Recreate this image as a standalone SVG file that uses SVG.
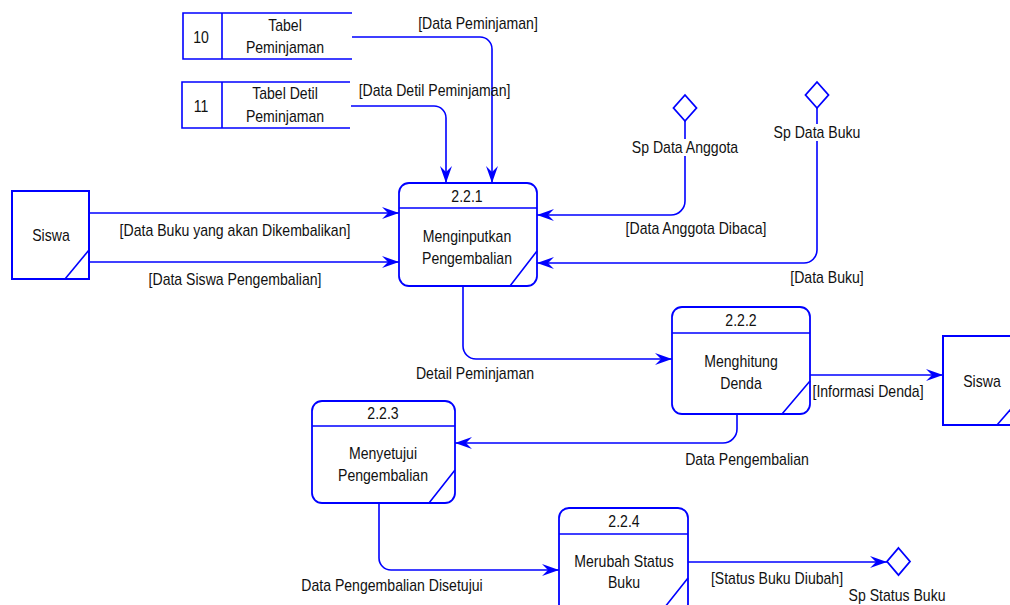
<svg xmlns="http://www.w3.org/2000/svg" width="1010" height="605" viewBox="0 0 1010 605">
  <style>
    .ln { fill: none; stroke: #0000ff; stroke-width: 1.6; }
    .bx { fill: #ffffff; stroke: #0000ff; stroke-width: 1.8; }
    .ent { fill: #ffffff; stroke: #0000ff; stroke-width: 2; }
    .flow { fill: none; stroke: #0000ff; stroke-width: 1.6; marker-end: url(#arr); }
    .t { font-family: "Liberation Sans", Arial, sans-serif; font-size: 16px; fill: #111111; text-anchor: middle; }
    .bg { fill: #ffffff; }
  </style>
  <defs>
    <marker id="arr" markerUnits="userSpaceOnUse" markerWidth="20" markerHeight="14" viewBox="-18 -7 20 14" refX="0" refY="0" orient="auto">
      <path d="M0,0 L-17,-6 L-11,0 L-17,6 Z" fill="#0000ff"/>
    </marker>
  </defs>
  <rect width="1010" height="605" fill="#ffffff"/>

  <!-- connectors -->
  <g id="connectors">
    <path class="flow" d="M352,37 H480 A12,12 0 0 1 492,49 V183"/>
    <path class="flow" d="M351,106 H434 A12,12 0 0 1 446,118 V183"/>
    <path class="flow" d="M89,213 H399"/>
    <path class="flow" d="M89,262 H399"/>
    <path class="flow" d="M685,121 V201 A14,14 0 0 1 671,215 H537"/>
    <path class="flow" d="M817,108 V250 A13,13 0 0 1 804,263 H537"/>
    <path class="flow" d="M463,286 V346 A13,13 0 0 0 476,359 H672"/>
    <path class="flow" d="M810,375 H943"/>
    <path class="flow" d="M737,414 V429 A14,14 0 0 1 723,443 H455"/>
    <path class="flow" d="M379,503 V558 A12,12 0 0 0 391,570 H559"/>
    <path class="flow" d="M688,562 H887"/>
  </g>

  <!-- connector labels -->
  <g id="flow-labels">
    <text class="t" transform="translate(478 29) scale(.88 1)">[Data Peminjaman]</text>
    <text class="t" transform="translate(434.5 96) scale(.88 1)">[Data Detil Peminjaman]</text>
    <text class="t" transform="translate(235 236) scale(.88 1)">[Data Buku yang akan Dikembalikan]</text>
    <text class="t" transform="translate(235 285) scale(.88 1)">[Data Siswa Pengembalian]</text>
    <text class="t" transform="translate(696 234) scale(.88 1)">[Data Anggota Dibaca]</text>
    <text class="t" transform="translate(827 283) scale(.88 1)">[Data Buku]</text>
    <text class="t" transform="translate(475 379) scale(.88 1)">Detail Peminjaman</text>
    <text class="t" transform="translate(868 397) scale(.88 1)">[Informasi Denda]</text>
    <text class="t" transform="translate(747 465) scale(.88 1)">Data Pengembalian</text>
    <text class="t" transform="translate(392 591) scale(.88 1)">Data Pengembalian Disetujui</text>
    <text class="t" transform="translate(777 584) scale(.88 1)">[Status Buku Diubah]</text>
  </g>

  <!-- data store 10 -->
  <g id="store-10">
    <path class="ln" stroke-width="2" d="M352,13 H183 V59 H352 M222,13 V59"/>
    <text class="t" transform="translate(201 43) scale(.88 1)">10</text>
    <text class="t" transform="translate(285 31) scale(.88 1)">Tabel</text>
    <text class="t" transform="translate(285 53) scale(.88 1)">Peminjaman</text>
  </g>

  <!-- data store 11 -->
  <g id="store-11">
    <path class="ln" stroke-width="2" d="M350,82 H182 V128 H350 M222,82 V128"/>
    <text class="t" transform="translate(201 112) scale(.88 1)">11</text>
    <text class="t" transform="translate(285 99) scale(.88 1)">Tabel Detil</text>
    <text class="t" transform="translate(285 122) scale(.88 1)">Peminjaman</text>
  </g>

  <!-- external entity: Siswa (source) -->
  <g id="siswa-in">
    <rect class="ent" x="12" y="191" width="77" height="88"/>
    <path class="ln" d="M65,279 L89,250"/>
    <text class="t" transform="translate(51 241) scale(.88 1)">Siswa</text>
  </g>

  <!-- external entity: Siswa (sink) -->
  <g id="siswa-out">
    <rect class="ent" x="943" y="336" width="80" height="89"/>
    <path class="ln" d="M997,425 L1022,396"/>
    <text class="t" transform="translate(982 387) scale(.88 1)">Siswa</text>
  </g>

  <!-- process 2.2.1 -->
  <g id="proc-221">
    <rect class="bx" x="399" y="183" width="138" height="103" rx="10"/>
    <path class="ln" d="M399,208 H537 M510,286 L537,251"/>
    <text class="t" transform="translate(467 202) scale(.88 1)">2.2.1</text>
    <text class="t" transform="translate(467 242) scale(.88 1)">Menginputkan</text>
    <text class="t" transform="translate(467 264) scale(.88 1)">Pengembalian</text>
  </g>

  <!-- process 2.2.2 -->
  <g id="proc-222">
    <rect class="bx" x="672" y="307" width="138" height="107" rx="10"/>
    <path class="ln" d="M672,333 H810 M782,414 L810,381"/>
    <text class="t" transform="translate(741 326) scale(.88 1)">2.2.2</text>
    <text class="t" transform="translate(741 367) scale(.88 1)">Menghitung</text>
    <text class="t" transform="translate(741 389) scale(.88 1)">Denda</text>
  </g>

  <!-- process 2.2.3 -->
  <g id="proc-223">
    <rect class="bx" x="312" y="401" width="143" height="102" rx="10"/>
    <path class="ln" d="M312,426 H455 M429,503 L455,470"/>
    <text class="t" transform="translate(383 419) scale(.88 1)">2.2.3</text>
    <text class="t" transform="translate(383 459) scale(.88 1)">Menyetujui</text>
    <text class="t" transform="translate(383 481) scale(.88 1)">Pengembalian</text>
  </g>

  <!-- process 2.2.4 -->
  <g id="proc-224">
    <rect class="bx" x="559" y="508" width="129" height="106" rx="10"/>
    <path class="ln" d="M559,534 H688 M661,612 L688,578"/>
    <text class="t" transform="translate(624 527) scale(.88 1)">2.2.4</text>
    <text class="t" transform="translate(624 567) scale(.88 1)">Merubah Status</text>
    <text class="t" transform="translate(624 588) scale(.88 1)">Buku</text>
  </g>

  <!-- stored procedure: Sp Data Anggota -->
  <g id="sp-data-anggota">
    <polygon class="bx" points="685,95 696.5,108 685,121 673.5,108"/>
    <rect class="bg" x="628" y="139" width="114" height="17"/>
    <text class="t" transform="translate(685 153) scale(.88 1)">Sp Data Anggota</text>
  </g>

  <!-- stored procedure: Sp Data Buku -->
  <g id="sp-data-buku">
    <polygon class="bx" points="817,82 828.5,95 817,108 805.5,95"/>
    <rect class="bg" x="771" y="124" width="92" height="17"/>
    <text class="t" transform="translate(817 138) scale(.88 1)">Sp Data Buku</text>
  </g>

  <!-- stored procedure: Sp Status Buku -->
  <g id="sp-status-buku">
    <polygon class="bx" points="898.5,548 910,561.5 898.5,575 887,561.5"/>
    <text class="t" transform="translate(897 601) scale(.88 1)">Sp Status Buku</text>
  </g>
</svg>
